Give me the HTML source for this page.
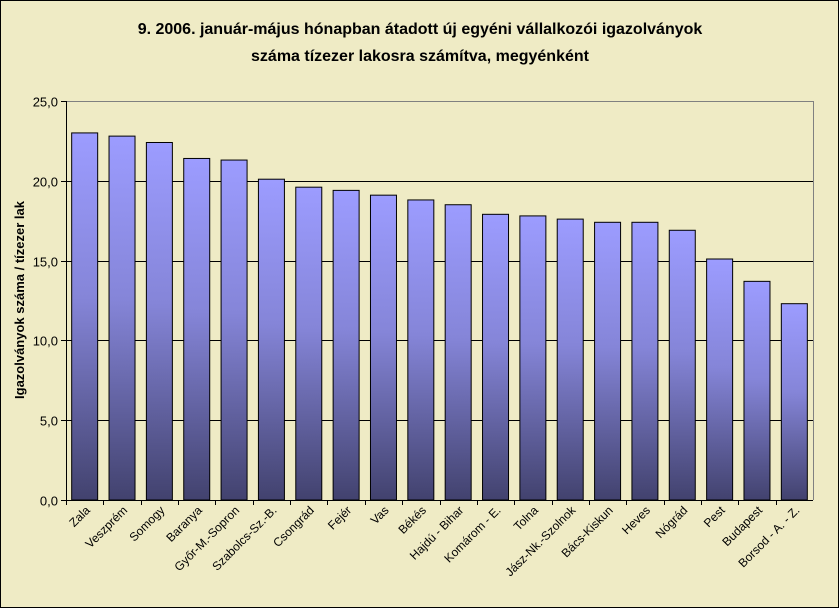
<!DOCTYPE html>
<html><head><meta charset="utf-8"><style>
body{margin:0;background:#fff}
svg{display:block;font-family:"Liberation Sans",Arial,sans-serif}
</style></head><body>
<svg width="839" height="608">
<defs><linearGradient id="g" x1="0" y1="0" x2="0" y2="1">
<stop offset="0" stop-color="#9C9CFF"/><stop offset="0.45" stop-color="#8585D8"/><stop offset="1" stop-color="#42426E"/></linearGradient></defs>
<rect x="0.5" y="0.5" width="838" height="607" fill="#EFEBC5" stroke="#000"/>
<text x="420" y="34" text-anchor="middle" font-size="16" font-weight="bold">9.   2006. január-május hónapban átadott új egyéni vállalkozói  igazolványok</text>
<text x="420" y="61" text-anchor="middle" font-size="16" font-weight="bold">száma tízezer lakosra számítva, megyénként</text>
<text transform="translate(24,300) rotate(-90)" text-anchor="middle" font-size="13" font-weight="bold">Igazolványok száma / tízezer lak</text>
<g id="plot"></g>
</svg>
<script>
const categories=["Zala","Veszprém","Somogy","Baranya","Győr-M.-Sopron","Szabolcs-Sz.-B.","Csongrád","Fejér","Vas","Békés","Hajdú - Bihar","Komárom - E.","Tolna","Jász-Nk.-Szolnok","Bács-Kiskun","Heves","Nógrád","Pest","Budapest","Borsod - A. - Z."];
const values=[23.0,22.8,22.4,21.4,21.3,20.1,19.6,19.4,19.1,18.8,18.5,17.9,17.8,17.6,17.4,17.4,16.9,15.1,13.7,12.3];
const yTicks=[0,5,10,15,20,25];
const yTickLabels=["0,0","5,0","10,0","15,0","20,0","25,0"];
const NS="http://www.w3.org/2000/svg";
const x0=66,x1=813,y0=500,y1=101,yMax=25;
const step=(x1-x0)/categories.length;
const yS=v=>y0-(v/yMax)*(y0-y1);
const xC=i=>x0+step*(i+0.5);
const g=document.getElementById('plot');
function mk(t,a){const e=document.createElementNS(NS,t);for(const k in a)e.setAttribute(k,a[k]);g.appendChild(e);return e;}
yTicks.forEach((t,i)=>{
  const y=Math.round(yS(t))+0.5;
  if(t>0){const l=mk('line',{x1:x0,x2:x1,y1:y,y2:y,stroke:t===yMax?'#808080':'#000'});
  
  }
  const tk=mk('line',{x1:x0-5,x2:x0,y1:y,y2:y,stroke:'#000'});
  
  
  const tx=mk('text',{x:x0-8,y:y+5,'text-anchor':'end','font-size':'13'});
  tx.textContent=yTickLabels[i];
  
  
});
const rb=mk('line',{x1:x1+0.5,x2:x1+0.5,y1:y1,y2:y0,stroke:'#808080'});


const bw=26;
values.forEach((v,i)=>{
  const y=yS(v);
  const r=mk('rect',{x:xC(i)-bw/2,y:y,width:bw,height:y0-y,fill:'url(#g)',stroke:'#000','stroke-width':1});
  
  
});
const ax=mk('line',{x1:x0+0.5,x2:x0+0.5,y1:y1,y2:y0,stroke:'#000'});


const bx=mk('line',{x1:x0,x2:x1,y1:y0+0.5,y2:y0+0.5,stroke:'#000'});


categories.forEach((c,i)=>{
  const xt=Math.round(x0+step*i)+0.5;
  const tk=mk('line',{x1:xt,x2:xt,y1:y0,y2:y0+5,stroke:'#000'});
  
  
  const xx=xC(i)+6,yy=511;
  const t=mk('text',{x:xx,y:yy,'text-anchor':'end','font-size':'12',transform:`rotate(-45 ${xx} ${yy})`});
  t.textContent=c;
  
  
});
</script>
</body></html>
